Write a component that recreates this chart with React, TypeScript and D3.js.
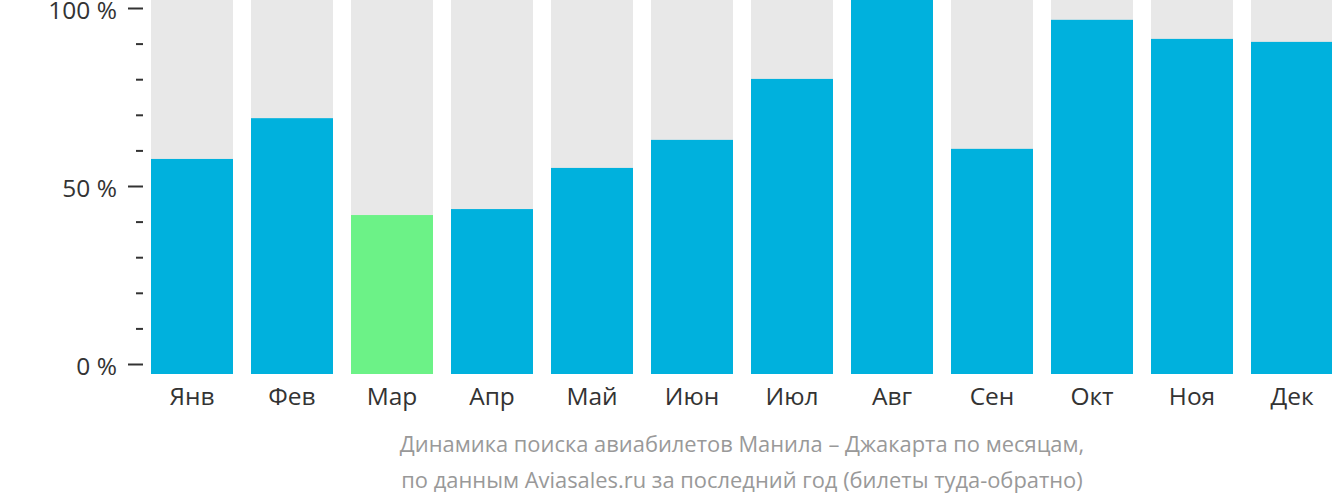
import React from "react";
import * as d3 from "d3";

const months = ["Янв", "Фев", "Мар", "Апр", "Май", "Июн", "Июл", "Авг", "Сен", "Окт", "Ноя", "Дек"];
const values = [57.5, 68.4, 42.5, 44.1, 55.1, 62.6, 78.9, 100, 60.2, 94.7, 89.6, 88.8];
const highlightIndex = 2;
const majorTicks = [0, 50, 100];
const minorTicks = [10, 20, 30, 40, 60, 70, 80, 90];
const captionLines = [
  "Динамика поиска авиабилетов Манила – Джакарта по месяцам,",
  "по данным Aviasales.ru за последний год (билеты туда-обратно)",
];

export default function App() {
  const W = 1332, H = 502;
  const x = d3.scaleBand<string>().domain(months).range([142, 1342]).paddingInner(0.18).paddingOuter(0.09);
  const yBar = d3.scaleLinear().domain([0, 100]).range([374, 0]);
  const yAxis = d3.scaleLinear().domain([0, 100]).range([364.5, 8.5]);
  const font = "'Open Sans', sans-serif";
  return (
    <svg width={W} height={H} style={{ position: "absolute", left: 0, top: 0 }}>
      {months.map((m, i) => (
        <g key={m}>
          <rect x={x(m)} y={0} width={x.bandwidth()} height={yBar(0)} fill="#e8e8e8" />
          <rect x={x(m)} y={yBar(values[i])} width={x.bandwidth()} height={yBar(0) - yBar(values[i])}
            fill={i === highlightIndex ? "#6cf287" : "#00b1dd"} />
          <text x={(x(m) as number) + x.bandwidth() / 2} y={404.5} textAnchor="middle" fontFamily={font}
            fontSize={24.5} fill="#333">{m}</text>
        </g>
      ))}
      {majorTicks.map((t) => (
        <g key={t}>
          <line x1={128} x2={143} y1={yAxis(t)} y2={yAxis(t)} stroke="#333" strokeWidth={2} />
          <text x={117} y={yAxis(t) + 10} textAnchor="end" fontFamily={font} fontSize={24.5} fill="#333">{t} %</text>
        </g>
      ))}
      {minorTicks.map((t) => (
        <line key={t} x1={136} x2={143} y1={yAxis(t)} y2={yAxis(t)} stroke="#333" strokeWidth={2} />
      ))}
      {captionLines.map((l, i) => (
        <text key={i} x={742} y={452 + i * 36} textAnchor="middle" fontFamily={font} fontSize={21.9} fill="#999">{l}</text>
      ))}
    </svg>
  );
}
